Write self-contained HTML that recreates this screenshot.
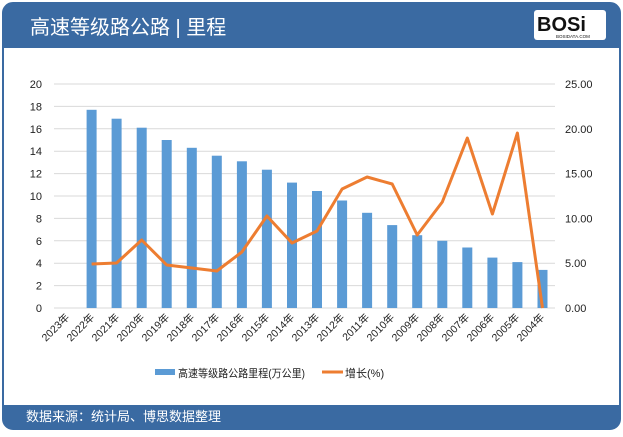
<!DOCTYPE html>
<html><head><meta charset="utf-8"><style>
html,body{margin:0;padding:0;background:#fff;}
body{width:623px;height:432px;overflow:hidden;font-family:"Liberation Sans","Noto Sans CJK SC",sans-serif;}
</style></head><body>
<svg width="623" height="432" viewBox="0 0 623 432" xmlns="http://www.w3.org/2000/svg" font-family="Liberation Sans, Noto Sans CJK SC, sans-serif">
<rect x="3" y="3" width="617" height="426" rx="10" fill="#fff" stroke="#3a6aa2" stroke-width="2"/>
<path d="M3 48 V13 Q3 3 13 3 H610 Q620 3 620 13 V48 Z" fill="#3a6aa2"/>
<path d="M3 405 V419 Q3 429 13 429 H610 Q620 429 620 419 V405 Z" fill="#3a6aa2"/>
<text x="30" y="34" font-size="20" fill="#fff">高速等级路公路 | 里程</text>
<rect x="534" y="10" width="72" height="30" rx="3" fill="#fff"/>
<text x="537" y="31" font-size="20" font-weight="bold" fill="#111">BOSi</text>
<text x="556" y="38" font-size="4.5" fill="#111">BOSIDATA.COM</text>
<text x="26" y="421" font-size="13" fill="#fff">数据来源：统计局、博思数据整理</text>
<g stroke="#d9d9d9" stroke-width="1">
<line x1="54" x2="555" y1="84" y2="84"/><line x1="54" x2="555" y1="106.4" y2="106.4"/><line x1="54" x2="555" y1="128.8" y2="128.8"/><line x1="54" x2="555" y1="151.2" y2="151.2"/><line x1="54" x2="555" y1="173.6" y2="173.6"/><line x1="54" x2="555" y1="196" y2="196"/><line x1="54" x2="555" y1="218.4" y2="218.4"/><line x1="54" x2="555" y1="240.8" y2="240.8"/><line x1="54" x2="555" y1="263.2" y2="263.2"/><line x1="54" x2="555" y1="285.6" y2="285.6"/><line x1="54" x2="555" y1="308" y2="308"/>
</g>
<g font-size="11" fill="#222" text-anchor="end">
<text x="42" y="88">20</text><text x="42" y="110.4">18</text><text x="42" y="132.8">16</text><text x="42" y="155">14</text><text x="42" y="177.6">12</text><text x="42" y="200">10</text><text x="42" y="222.4">8</text><text x="42" y="244.8">6</text><text x="42" y="267.2">4</text><text x="42" y="289.6">2</text><text x="42" y="312">0</text>
</g>
<g font-size="11" fill="#222">
<text x="565" y="88">25.00</text><text x="565" y="132.8">20.00</text><text x="565" y="177.6">15.00</text><text x="565" y="222.4">10.00</text><text x="565" y="267.2">5.00</text><text x="565" y="312">0.00</text>
</g>
<g fill="#5b9bd5">
<rect x="86.6" y="109.8" width="10" height="198.2"/><rect x="111.6" y="118.7" width="10" height="189.3"/><rect x="136.7" y="127.7" width="10" height="180.3"/><rect x="161.7" y="140" width="10" height="168"/><rect x="186.8" y="147.8" width="10" height="160.2"/><rect x="211.8" y="155.7" width="10" height="152.3"/><rect x="236.9" y="161.3" width="10" height="146.7"/><rect x="261.9" y="169.7" width="10" height="138.3"/><rect x="287" y="182.6" width="10" height="125.4"/><rect x="312" y="191" width="10" height="117"/><rect x="337.1" y="200.5" width="10" height="107.5"/><rect x="362.1" y="212.8" width="10" height="95.2"/><rect x="387.2" y="225.1" width="10" height="82.9"/><rect x="412.2" y="235.2" width="10" height="72.8"/><rect x="437.3" y="240.8" width="10" height="67.2"/><rect x="462.3" y="247.5" width="10" height="60.5"/><rect x="487.4" y="257.6" width="10" height="50.4"/><rect x="512.4" y="262.1" width="10" height="45.9"/><rect x="537.5" y="269.9" width="10" height="38.1"/>
</g>
<polyline fill="none" stroke="#ed7d31" stroke-width="3" stroke-linejoin="round" points="91.6,264 116.6,263 141.7,240 166.7,265 191.8,268 216.8,271 241.9,252 266.9,216 292,243 317,231 342.1,189 367.1,177 392.2,184 417.2,235 442.3,202 467.3,138 492.4,214 517.4,133 542.5,308"/>
<g font-size="10.5" fill="#222" text-anchor="end">
<text transform="translate(70,318) rotate(-45)">2023年</text><text transform="translate(95,318) rotate(-45)">2022年</text><text transform="translate(120,318) rotate(-45)">2021年</text><text transform="translate(145,318) rotate(-45)">2020年</text><text transform="translate(170,318) rotate(-45)">2019年</text><text transform="translate(195,318) rotate(-45)">2018年</text><text transform="translate(220,318) rotate(-45)">2017年</text><text transform="translate(245,318) rotate(-45)">2016年</text><text transform="translate(270,318) rotate(-45)">2015年</text><text transform="translate(295,318) rotate(-45)">2014年</text><text transform="translate(320,318) rotate(-45)">2013年</text><text transform="translate(345,318) rotate(-45)">2012年</text><text transform="translate(370,318) rotate(-45)">2011年</text><text transform="translate(395,318) rotate(-45)">2010年</text><text transform="translate(420,318) rotate(-45)">2009年</text><text transform="translate(445,318) rotate(-45)">2008年</text><text transform="translate(470,318) rotate(-45)">2007年</text><text transform="translate(495,318) rotate(-45)">2006年</text><text transform="translate(520,318) rotate(-45)">2005年</text><text transform="translate(545,318) rotate(-45)">2004年</text>
</g>
<rect x="155" y="369" width="20" height="6" fill="#5b9bd5"/>
<text x="178" y="377" font-size="11" fill="#222" textLength="127" lengthAdjust="spacingAndGlyphs">高速等级路公路里程(万公里)</text>
<line x1="322" x2="343" y1="372" y2="372" stroke="#ed7d31" stroke-width="3"/>
<text x="345" y="377" font-size="11" fill="#222">增长(%)</text>
</svg>
</body></html>
